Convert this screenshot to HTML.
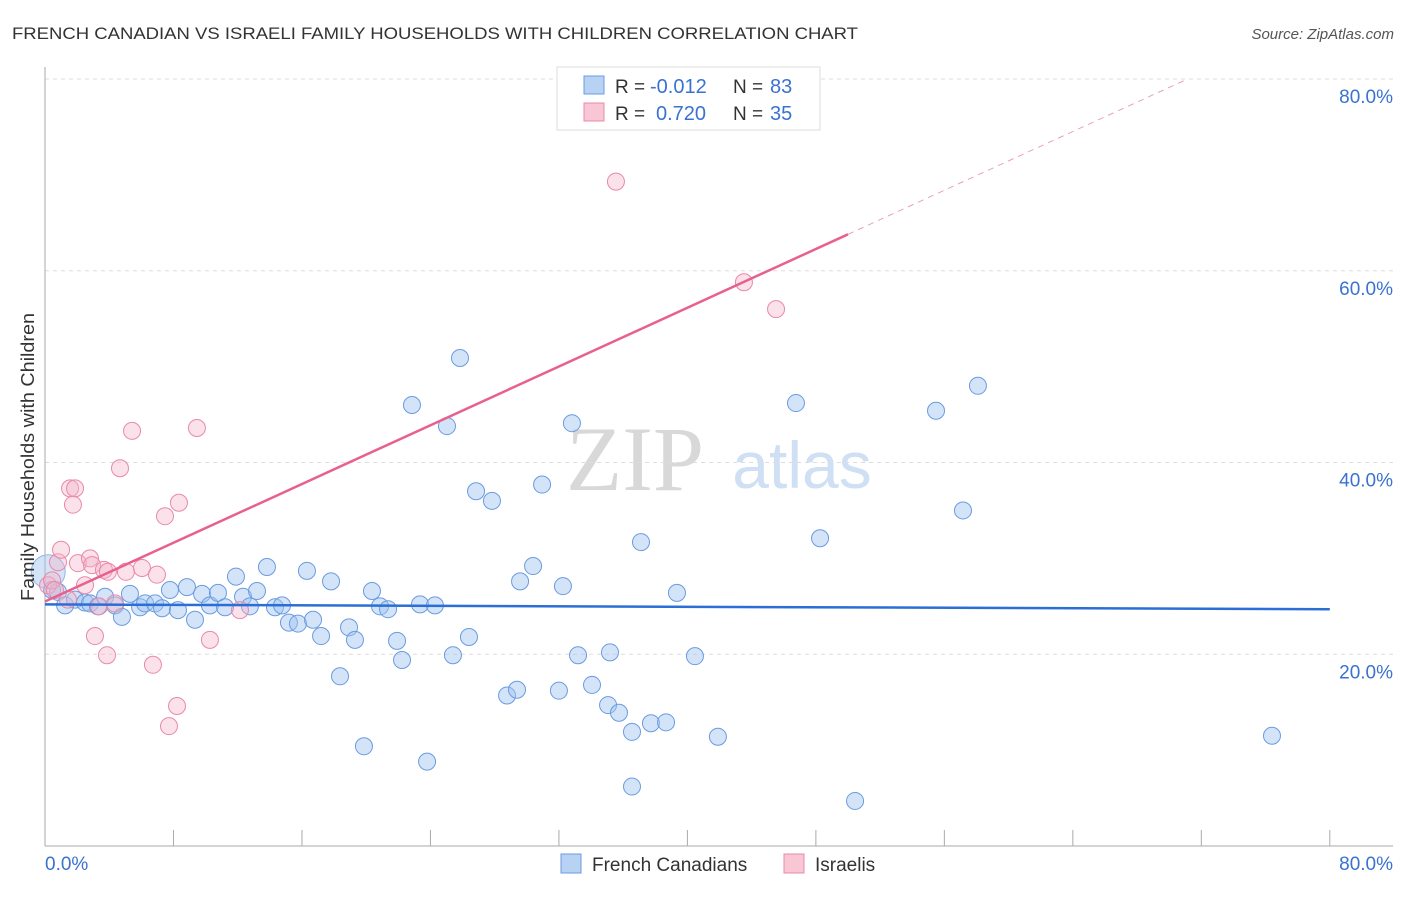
<!DOCTYPE html>
<html><head><meta charset="utf-8"><style>
body{margin:0;background:#fff;font-family:"Liberation Sans",sans-serif;}
svg text{font-family:"Liberation Sans",sans-serif;}
</style></head><body>
<svg id="chart" width="1406" height="892" xmlns="http://www.w3.org/2000/svg">
<text x="12" y="39" font-size="17" fill="#333" textLength="846" lengthAdjust="spacingAndGlyphs">FRENCH CANADIAN VS ISRAELI FAMILY HOUSEHOLDS WITH CHILDREN CORRELATION CHART</text>
<text x="1394" y="39" font-size="15" fill="#555" text-anchor="end" font-style="italic">Source: ZipAtlas.com</text>
<g><text x="635" y="490" font-size="92" fill="#d8d8d8" text-anchor="middle" font-family="Liberation Serif" style="font-family:'Liberation Serif',serif">ZIP</text><text x="802" y="488" font-size="66" fill="#cfe0f4" text-anchor="middle">atlas</text></g>
<g id="grid"></g>
<g id="axes"></g>
<g id="marks"></g>
<g id="trends"></g>
<text transform="translate(34,457) rotate(-90)" font-size="18" fill="#333" text-anchor="middle" textLength="288" lengthAdjust="spacingAndGlyphs">Family Households with Children</text>
<g>
<rect x="557" y="67" width="263" height="63" fill="#fff" stroke="#ddd"/>
<rect x="584" y="76" width="20" height="18" fill="#b8d2f4" stroke="#6a9be0"/>
<rect x="584" y="103" width="20" height="18" fill="#f8c6d5" stroke="#e88aa8"/>
<text x="615" y="93" font-size="19" fill="#333">R =</text>
<text x="650" y="93" font-size="20" fill="#3a72d0">-0.012</text>
<text x="733" y="93" font-size="19" fill="#333">N =</text>
<text x="770" y="93" font-size="20" fill="#3a72d0">83</text>
<text x="615" y="120" font-size="19" fill="#333">R =</text>
<text x="656" y="120" font-size="20" fill="#3a72d0">0.720</text>
<text x="733" y="120" font-size="19" fill="#333">N =</text>
<text x="770" y="120" font-size="20" fill="#3a72d0">35</text>
</g>
<g>
<rect x="561" y="854" width="20" height="19" fill="#b8d2f4" stroke="#6a9be0"/>
<text x="592" y="871" font-size="19" fill="#333">French Canadians</text>
<rect x="784" y="854" width="20" height="19" fill="#f8c6d5" stroke="#e88aa8"/>
<text x="815" y="871" font-size="19" fill="#333">Israelis</text>
</g>
</svg>
<script>
const blueX=[0.44,0.81,1.25,1.87,2.49,2.8,3.3,3.74,4.36,4.79,5.29,5.92,6.23,6.85,7.29,7.78,8.28,8.84,9.34,9.78,10.27,10.77,11.21,11.89,12.33,12.76,13.2,13.82,14.32,14.76,15.19,15.75,16.31,16.69,17.19,17.81,18.37,18.93,19.3,19.86,20.36,20.86,21.36,21.92,22.23,22.85,23.35,23.79,24.28,25.03,25.4,25.84,26.4,26.84,27.83,28.77,29.39,29.58,30.39,30.95,32.0,32.25,32.81,33.19,34.06,35.06,35.18,35.74,36.55,36.55,37.11,37.73,38.67,39.35,40.47,41.9,46.76,48.26,50.44,55.48,57.16,58.09,76.4];
const blueY=[26.7,26.5,25.1,25.7,25.4,25.3,25.0,26.0,25.1,23.9,26.3,24.9,25.3,25.3,24.8,26.7,24.6,27.0,23.6,26.3,25.1,26.4,24.9,28.1,26.0,25.0,26.6,29.1,24.9,25.1,23.3,23.2,28.7,23.6,21.9,27.6,17.7,22.8,21.5,10.4,26.6,25.0,24.7,21.4,19.4,46.0,25.2,8.8,25.1,43.8,19.9,50.9,21.8,37.0,36.0,15.7,16.3,27.6,29.2,37.7,16.2,27.1,44.1,19.9,16.8,14.7,20.2,13.9,11.9,6.2,31.7,12.8,12.9,26.4,19.8,11.4,46.2,32.1,4.7,45.4,35.0,48.0,11.5];
const pinkX=[0.19,0.44,0.81,1.0,0.62,1.43,1.56,1.87,1.74,2.05,2.49,2.8,2.93,3.11,3.36,3.67,3.92,3.86,4.36,4.67,5.04,5.42,6.04,6.72,6.97,7.47,7.72,8.22,8.34,9.46,10.27,12.14,35.55,43.52,45.52];
const pinkY=[27.2,27.7,29.6,30.9,26.7,25.7,37.3,37.3,35.6,29.5,27.2,30.0,29.3,21.9,25.0,28.8,28.6,19.9,25.3,39.4,28.6,43.3,29.0,18.9,28.3,34.4,12.5,14.6,35.8,43.6,21.5,24.6,69.3,58.8,56.0];
const yTicks=[20,40,60,80];
const yTickLabels=["20.0%","40.0%","60.0%","80.0%"];
const blueTrend=[25.2,24.7];
const pinkTrend=[25.5,0.766];
const NS="http://www.w3.org/2000/svg";
const sx=v=>45+v*16.06, sy=v=>846-v*9.5875;
function mk(p,tag,a){const e=document.createElementNS(NS,tag);for(const k in a)e.setAttribute(k,a[k]);p.appendChild(e);return e;}
const grid=document.getElementById('grid'),axes=document.getElementById('axes'),marks=document.getElementById('marks'),trends=document.getElementById('trends');
yTicks.forEach((t,i)=>{
 const l=mk(grid,'line',{x1:45,x2:1393,y1:sy(t),y2:sy(t),stroke:'#ddd','stroke-dasharray':'4,4'});
 
 
 const tx=mk(axes,'text',{x:1393,y:sy(t)+24,'font-size':19,fill:'#3a72d0','text-anchor':'end'});
 tx.textContent=yTickLabels[i];
 
 
});
mk(axes,'line',{x1:45,x2:45,y1:67,y2:846,stroke:'#aaa'});
mk(axes,'line',{x1:45,x2:1393,y1:846,y2:846,stroke:'#aaa'});
for(let i=1;i<=10;i++){const l=mk(axes,'line',{x1:sx(i*8),x2:sx(i*8),y1:830,y2:846,stroke:'#aaa'});
 
 }
const x0=mk(axes,'text',{x:45,y:870,'font-size':19,fill:'#3a72d0'});x0.textContent='0.0%';


const x1=mk(axes,'text',{x:1393,y:870,'font-size':19,fill:'#3a72d0','text-anchor':'end'});x1.textContent='80.0%';


const big=mk(marks,'circle',{cx:sx(0.2),cy:sy(28.6),r:17,fill:'rgba(160,196,240,0.45)',stroke:'#8fb4e8'});


blueX.forEach((v,i)=>{const c=mk(marks,'circle',{cx:sx(v),cy:sy(blueY[i]),r:8.5,fill:'rgba(160,196,240,0.45)',stroke:'#6a9be0','stroke-width':1});
 
 });
pinkX.forEach((v,i)=>{const c=mk(marks,'circle',{cx:sx(v),cy:sy(pinkY[i]),r:8.5,fill:'rgba(245,180,200,0.4)',stroke:'#e88aa8','stroke-width':1});
 
 });
const bt=mk(trends,'line',{x1:sx(0),y1:sy(blueTrend[0]),x2:sx(80),y2:sy(blueTrend[1]),stroke:'#2b6fd6','stroke-width':2.5});


const pt=mk(trends,'line',{x1:sx(0),y1:sy(pinkTrend[0]),x2:sx(50),y2:sy(pinkTrend[0]+50*pinkTrend[1]),stroke:'#e8608e','stroke-width':2.5});


const pd=mk(trends,'line',{x1:sx(50),y1:sy(pinkTrend[0]+50*pinkTrend[1]),x2:sx(71),y2:sy(pinkTrend[0]+71*pinkTrend[1]),stroke:'#e8a0b8','stroke-width':1,'stroke-dasharray':'6,5'});


</script>
</body></html>
